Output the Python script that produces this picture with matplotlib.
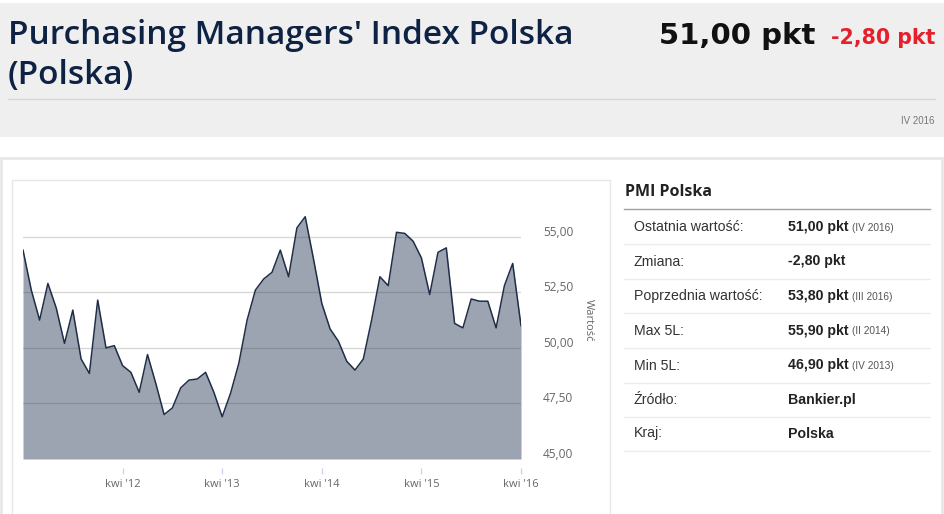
import numpy as np
import matplotlib
matplotlib.use("Agg")
import matplotlib.pyplot as plt
from matplotlib.patches import Rectangle
from matplotlib.lines import Line2D
from matplotlib.transforms import ScaledTranslation

# ==========================
# DATA
# ==========================

# monthly PMI, IV 2011 .. IV 2016
pmi = [
    54.4, 52.6, 51.25, 52.9, 51.8, 50.2, 51.7, 49.5, 48.85,
    52.15, 50.0, 50.1, 49.2, 48.9, 48.0, 49.7, 48.4, 47.0, 47.3, 48.2, 48.55,
    48.6, 48.9, 48.0, 46.9, 47.95, 49.3, 51.25, 52.6, 53.1, 53.4, 54.4, 53.2,
    55.4, 55.9, 54.0, 52.0, 50.85, 50.3, 49.4, 49.0, 49.5, 51.25, 53.2, 52.8,
    55.2, 55.15, 54.8, 54.05, 52.4, 54.3, 54.5, 51.1, 50.9, 52.2, 52.1, 52.1,
    50.9, 52.8, 53.8, 51.0,
]
tick_months = [12, 24, 36, 48, 60]
tick_labels = ["kwi '12", "kwi '13", "kwi '14", "kwi '15", "kwi '16"]
y_ticks = [45, 47.5, 50, 52.5, 55]
y_labels = ["45,00", "47,50", "50,00", "52,50", "55,00"]

title_lines = ["Purchasing Managers' Index Polska", "(Polska)"]
last_value = "51,00 pkt"
change = "-2,80 pkt"
period = "IV 2016"

table_title = "PMI Polska"
row_labels = ["Ostatnia wartość:", "Zmiana:", "Poprzednia wartość:",
              "Max 5L:", "Min 5L:", "Źródło:", "Kraj:"]
row_values = ["51,00 pkt", "-2,80 pkt", "53,80 pkt", "55,90 pkt",
              "46,90 pkt", "Bankier.pl", "Polska"]
row_notes = ["(IV 2016)", "", "(III 2016)", "(II 2014)", "(IV 2013)", "", ""]

# ==========================
# FIGURE
# ==========================

W, H = 945, 514
fig = plt.figure(figsize=(W / 100, H / 100), dpi=100)
plt.rcParams['font.family'] = ['Open Sans', 'DejaVu Sans']


def fx(x):
    return x / W


def fy(y):
    return 1 - y / H


# header background
fig.patches.append(Rectangle((0, fy(137.5)), 1, (137.5 - 3) / H,
                             transform=fig.transFigure, facecolor="#efefef",
                             edgecolor="none", zorder=0))
fig.lines.append(Line2D([fx(8), fx(935)], [fy(98.5), fy(98.5)],
                        transform=fig.transFigure, color="#d6d6d6", lw=1))

for line, base in zip(title_lines, [43.5, 84.2]):
    fig.text(fx(8), fy(base), line, ha="left", va="baseline",
             fontsize=24, fontweight="semibold", color="#0e2244")
fig.text(fx(815), fy(44.3), last_value, ha="right", va="baseline",
         fontsize=21, fontweight="bold", color="#111111",
         family="DejaVu Sans")
fig.text(fx(935), fy(44.3), change, ha="right", va="baseline",
         fontsize=14.8, fontweight="bold", color="#e5202c",
         family="DejaVu Sans")
fig.text(fx(935), fy(121), period, ha="right", va="center", fontsize=7,
         color="#777777", family="Liberation Sans")

# outer panel and chart box borders
fig.patches.append(Rectangle((fx(1), fy(530)), fx(941), (530 - 158) / H,
                             transform=fig.transFigure, facecolor="none",
                             edgecolor="#e8e8e8", lw=2, zorder=0))
fig.patches.append(Rectangle((fx(12.5), fy(530)), fx(597.5), (530 - 180) / H,
                             transform=fig.transFigure, facecolor="none",
                             edgecolor="#e8e8e8", lw=1, zorder=0))

# ==========================
# CHART
# ==========================

ax = fig.add_axes([fx(23), fy(459), fx(521 - 23), (459 - 200) / H])
x = np.arange(len(pmi))
ax.fill_between(x, 45, pmi, color="#2c3e58", alpha=0.47, lw=0, zorder=2)
ax.plot(x, pmi, color="#1f2d47", lw=1.1, zorder=3)

ax.set_xlim(0, len(pmi) - 1)
ax.set_ylim(45, 55 + (236.7 - 200) / 22.2)
ax.set_yticks(y_ticks)
ax.set_yticklabels(y_labels)
ax.yaxis.tick_right()
ax.tick_params(axis="y", length=0, pad=16, labelsize=8.6,
               labelcolor="#666666")
for lab in ax.get_yticklabels():
    lab.set_transform(lab.get_transform() +
                      ScaledTranslation(0, 6 / 100, fig.dpi_scale_trans))
ax.set_xticks(tick_months)
ax.set_xticklabels(tick_labels)
ax.spines["bottom"].set_position(("outward", 6.5))
ax.tick_params(axis="x", length=4.5, width=1, color="#ccd6eb", pad=3.5,
               labelsize=8, labelcolor="#666666")
for v in y_ticks[1:]:
    ax.axhline(v, color="#d8d8d8", lw=1, zorder=1)
for s in ax.spines.values():
    s.set_visible(False)
ax.patch.set_alpha(0)

fig.text(fx(588), fy(320), "Wartość", rotation=-90, ha="center",
         va="center", fontsize=8, color="#666666")

# ==========================
# TABLE
# ==========================

fig.text(fx(625), fy(192), table_title, ha="left", va="center",
         fontsize=11.5, fontweight="bold", color="#222222")
fig.lines.append(Line2D([fx(624), fx(930)], [fy(209), fy(209)],
                        transform=fig.transFigure, color="#a0a0a0", lw=1))

row_y = [227.3, 261.5, 296, 331, 365.5, 400, 433.5]
sep_y = [244, 278.5, 313.3, 348.3, 382.5, 416.7, 450.7]
fig.canvas.draw()
renderer = fig.canvas.get_renderer()
for i in range(len(row_labels)):
    fig.text(fx(634), fy(row_y[i]), row_labels[i], ha="left", va="center",
             fontsize=10.2, color="#333333", family="Liberation Sans")
    t = fig.text(fx(788), fy(row_y[i]), row_values[i], ha="left",
                 va="center", fontsize=10.2, fontweight="bold",
                 color="#222222", family="Liberation Sans")
    if row_notes[i]:
        bb = t.get_window_extent(renderer)
        fig.text((bb.x1 + 3.5) / W, fy(row_y[i] + 0.5), row_notes[i],
                 ha="left", va="center", fontsize=7.3, color="#555555",
                 family="Liberation Sans")
    fig.lines.append(Line2D([fx(624), fx(930)], [fy(sep_y[i]), fy(sep_y[i])],
                            transform=fig.transFigure, color="#ececec", lw=1))

fig.savefig("out.png", dpi=100)
